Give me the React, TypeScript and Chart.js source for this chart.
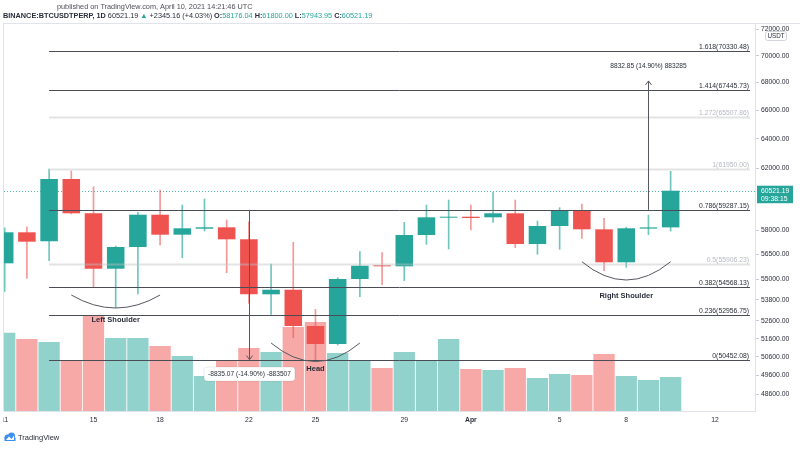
import React, { useEffect, useRef } from 'react';
import { Chart, registerables } from 'chart.js';

Chart.register(...registerables);

// ---------- data ----------
const DATES = [
  '2021-03-11', '2021-03-12', '2021-03-13', '2021-03-14', '2021-03-15', '2021-03-16', '2021-03-17',
  '2021-03-18', '2021-03-19', '2021-03-20', '2021-03-21', '2021-03-22', '2021-03-23', '2021-03-24',
  '2021-03-25', '2021-03-26', '2021-03-27', '2021-03-28', '2021-03-29', '2021-03-30', '2021-03-31',
  '2021-04-01', '2021-04-02', '2021-04-03', '2021-04-04', '2021-04-05', '2021-04-06', '2021-04-07',
  '2021-04-08', '2021-04-09', '2021-04-10',
];
const OPEN = [55967, 57869, 57310, 61289, 59066, 55643, 56960, 58976, 57720, 58093, 58181, 57434, 54129, 54398, 52311, 51307, 55029, 55823, 55787, 57700, 58787, 58850, 58811, 59066, 57144, 58263, 59276, 58055, 56028, 58100, 58176.04];
const HIGH = [58150, 58219, 61950, 61820, 60783, 57021, 59129, 60567, 59596, 59983, 58640, 58533, 55925, 57248, 53261, 55105, 56672, 56611, 58496, 59596, 59918, 59596, 60417, 59918, 58577, 59424, 59660, 58748, 58181, 58957, 61800];
const LOW = [54300, 55070, 56124, 59030, 54539, 53354, 54147, 57082, 56306, 57950, 55403, 53606, 52975, 51657, 50452.08, 51250, 53990, 54692, 54928, 57125, 56837, 58012, 58496, 56917, 56513, 56818, 57496, 55523, 55727, 57720, 57943.95];
const CLOSE = [57869, 57286, 61289, 59066, 55643, 56960, 58976, 57720, 58119, 58181, 57434, 54129, 54398, 52311, 51307, 55029, 55823, 55787, 57700, 58811, 58850, 58768, 59066, 57144, 58263, 59276, 58055, 56028, 58119, 58176.04, 60521.19];
// volume, thousands
const VOLUME = [470, 432, 414, 300, 576, 438, 438, 390, 330, 210, 306, 378, 354, 504, 534, 348, 300, 258, 354, 300, 432, 252, 246, 258, 198, 222, 216, 342, 210, 186, 204];

const X_TICK_IDX = [0, 4, 7, 11, 14, 18, 21, 25, 28, 32];
const X_TICK_LABELS = ['11', '15', '18', '22', '25', '29', 'Apr', '5', '8', '12'];
const Y_TICKS = [72000, 70000, 68000, 66000, 64000, 62000, 58000, 56500, 55000, 53800, 52600, 51600, 50600, 49600, 48600];

const FIB_RATIOS = ['1.618', '1.414', '1.272', '1', '0.786', '0.5', '0.382', '0.236', '0'];
const FIB_PRICES = [70330.48, 67445.73, 65507.86, 61950.0, 59287.15, 55906.23, 54568.13, 52956.75, 50452.08];
const FIB_MUTED = [false, false, true, true, false, true, false, false, false];
const FIB_START_IDX = 2;

const LAST_PRICE = 60521.19;
const LAST_TIME = '09:38:15';

const MEASURE_IDX = [11, 29];
const MEASURE_FROM = [59287.15, 59287.15];
const MEASURE_TO = [50452.08, 68120.0];
const MEASURE_TEXT = ['-8835.07 (-14.90%) -883507', '8832.85 (14.90%) 883285'];

const ARC_LABELS = ['Left Shoulder', 'Head', 'Right Shoulder'];
const ARC_START_IDX = [3, 12, 26];
const ARC_END_IDX = [7, 16, 30];
const ARC_EDGE_PRICE = [54088, 51362, 56064];
const ARC_LOW_PRICE = [53336, 50348, 54970];
const ARC_LABEL_OFFSET = [12, 7.5, 16];

const HEADER_1 = 'published on TradingView.com, April 10, 2021 14:21:46 UTC';
const SYMBOL = 'BINANCE:BTCUSDTPERP, 1D';
const CHANGE = '+2345.16 (+4.03%)';

// ---------- style ----------
const GREEN = '#26a69a';
const RED = '#ef5350';
const GREEN_WICK = 'rgba(38,166,154,0.65)';
const RED_WICK = 'rgba(239,83,80,0.6)';
const GREEN_VOL = 'rgba(38,166,154,0.5)';
const RED_VOL = 'rgba(239,83,80,0.5)';
const TEXT = '#2a2e39';
const FONT = '"Liberation Sans", Arial, sans-serif';

const Y_MIN = 47734;
const Y_MAX = 72508;
const X_MIN = -0.0315;
const X_MAX = 33.8;
const VOL_MAX = 2328;

const overlay = {
  id: 'overlay',
  beforeDatasetsDraw(chart: any) {
    const { ctx, chartArea: a, scales } = chart;
    const y = Math.round(scales.y.getPixelForValue(LAST_PRICE)) + 0.5;
    ctx.save();
    ctx.strokeStyle = 'rgba(38,166,154,0.8)';
    ctx.lineWidth = 1;
    ctx.setLineDash([1, 2]);
    ctx.beginPath();
    ctx.moveTo(a.left, y);
    ctx.lineTo(a.right, y);
    ctx.stroke();
    ctx.restore();
  },
  afterDatasetsDraw(chart: any) {
    const { ctx, chartArea: a, scales } = chart;
    const xs = scales.x;
    const ys = scales.y;
    ctx.save();
    // fib levels
    const x0 = xs.getPixelForValue(FIB_START_IDX);
    const x1 = a.right - 5;
    FIB_PRICES.forEach((p, i) => {
      const yy = Math.round(ys.getPixelForValue(p)) + 0.5;
      ctx.beginPath();
      ctx.strokeStyle = FIB_MUTED[i] ? 'rgba(190,192,198,0.45)' : '#4a4d55';
      ctx.lineWidth = FIB_MUTED[i] ? 2 : 1;
      ctx.moveTo(x0, yy);
      ctx.lineTo(x1, yy);
      ctx.stroke();
      ctx.font = `6.8px ${FONT}`;
      ctx.fillStyle = FIB_MUTED[i] ? '#b6b9c2' : TEXT;
      ctx.textAlign = 'right';
      ctx.textBaseline = 'bottom';
      ctx.fillText(`${FIB_RATIOS[i]}(${FIB_PRICES[i].toFixed(2)})`, x1 - 1, yy - 1);
    });
    // measure arrows
    MEASURE_IDX.forEach((idx, i) => {
      const mx = Math.round(xs.getPixelForValue(idx)) + 0.5;
      const yA = ys.getPixelForValue(MEASURE_FROM[i]);
      const yB = ys.getPixelForValue(MEASURE_TO[i]);
      ctx.strokeStyle = '#55585f';
      ctx.lineWidth = 1;
      ctx.beginPath();
      ctx.moveTo(mx, yA);
      ctx.lineTo(mx, yB);
      const dir = yB > yA ? 1 : -1;
      ctx.moveTo(mx - 3, yB - dir * 4);
      ctx.lineTo(mx, yB);
      ctx.lineTo(mx + 3, yB - dir * 4);
      ctx.stroke();
      ctx.font = `6.6px ${FONT}`;
      const tw = ctx.measureText(MEASURE_TEXT[i]).width;
      const cy = yB + dir * 14.5;
      ctx.fillStyle = '#ffffff';
      ctx.strokeStyle = 'rgba(0,0,0,0.08)';
      ctx.beginPath();
      (ctx as any).roundRect(mx - tw / 2 - 4, cy - 7, tw + 8, 14, 3);
      ctx.fill();
      if (dir > 0) ctx.stroke();
      ctx.fillStyle = TEXT;
      ctx.textAlign = 'center';
      ctx.textBaseline = 'middle';
      ctx.fillText(MEASURE_TEXT[i], mx, cy);
    });
    // head & shoulders arcs
    ARC_LABELS.forEach((lab, i) => {
      const ax0 = xs.getPixelForValue(ARC_START_IDX[i]);
      const ax1 = xs.getPixelForValue(ARC_END_IDX[i]);
      const ay = ys.getPixelForValue(ARC_EDGE_PRICE[i]);
      const ym = ys.getPixelForValue(ARC_LOW_PRICE[i]);
      const xm = (ax0 + ax1) / 2;
      ctx.strokeStyle = '#55585f';
      ctx.lineWidth = 1;
      ctx.beginPath();
      ctx.moveTo(ax0, ay);
      ctx.quadraticCurveTo(xm, 2 * ym - ay, ax1, ay);
      ctx.stroke();
      ctx.font = `bold 7.5px ${FONT}`;
      ctx.fillStyle = TEXT;
      ctx.textAlign = 'center';
      ctx.textBaseline = 'middle';
      ctx.fillText(lab, xm, ym + ARC_LABEL_OFFSET[i]);
    });
    ctx.restore();
  },
  afterDraw(chart: any) {
    const { ctx, chartArea: a, scales } = chart;
    ctx.save();
    // frame
    ctx.strokeStyle = '#e0e3eb';
    ctx.lineWidth = 1;
    ctx.beginPath();
    ctx.moveTo(3, 23.5);
    ctx.lineTo(800, 23.5);
    ctx.moveTo(3.5, 23.5);
    ctx.lineTo(3.5, a.bottom);
    ctx.stroke();
    // x axis labels (clipped to the pane)
    ctx.save();
    ctx.beginPath();
    ctx.rect(3.5, a.bottom + 1, a.right - 3.5, 30);
    ctx.clip();
    ctx.fillStyle = TEXT;
    ctx.textAlign = 'center';
    ctx.textBaseline = 'middle';
    X_TICK_IDX.forEach((v, i) => {
      ctx.font = `${X_TICK_LABELS[i] === 'Apr' ? 'bold ' : ''}6.8px ${FONT}`;
      ctx.fillText(X_TICK_LABELS[i], scales.x.getPixelForValue(v), a.bottom + 9.5);
    });
    ctx.restore();
    // header
    ctx.textBaseline = 'middle';
    ctx.textAlign = 'left';
    ctx.fillStyle = '#4c4f57';
    ctx.font = `7.3px ${FONT}`;
    ctx.fillText(HEADER_1, 57, 7);
    let x = 3;
    const seg = (t: string, bold: boolean, color: string) => {
      ctx.font = `${bold ? 'bold ' : ''}7.3px ${FONT}`;
      ctx.fillStyle = color;
      ctx.fillText(t, x, 16);
      x += ctx.measureText(t).width;
    };
    seg(SYMBOL, true, TEXT);
    seg(' ' + LAST_PRICE.toFixed(2) + ' ', false, TEXT);
    seg('▲', false, GREEN);
    seg(' ' + CHANGE + ' ', false, TEXT);
    const last = OPEN.length - 1;
    seg('O:', true, TEXT);
    seg(OPEN[last].toFixed(2), false, GREEN);
    seg(' H:', true, TEXT);
    seg(HIGH[last].toFixed(2), false, GREEN);
    seg(' L:', true, TEXT);
    seg(LOW[last].toFixed(2), false, GREEN);
    seg(' C:', true, TEXT);
    seg(CLOSE[last].toFixed(2), false, GREEN);
    // USDT tag
    ctx.strokeStyle = '#d1d4dc';
    ctx.fillStyle = '#ffffff';
    ctx.beginPath();
    (ctx as any).roundRect(765.5, 31.5, 21, 9, 2);
    ctx.fill();
    ctx.stroke();
    ctx.fillStyle = TEXT;
    ctx.font = `6.3px ${FONT}`;
    ctx.textAlign = 'center';
    ctx.fillText('USDT', 776, 36.3);
    // last price box
    const py = scales.y.getPixelForValue(LAST_PRICE);
    ctx.fillStyle = GREEN;
    ctx.fillRect(757, py - 5, 36, 17.5);
    ctx.fillStyle = '#ffffff';
    ctx.font = `6.8px ${FONT}`;
    ctx.textAlign = 'left';
    ctx.fillText(LAST_PRICE.toFixed(2), 761, py);
    ctx.fillText(LAST_TIME, 761, py + 8.5);
    // logo
    ctx.fillStyle = '#3d8ff0';
    ctx.beginPath();
    ctx.arc(7.5, 437.5, 3, 0, Math.PI * 2);
    ctx.arc(11.5, 436, 3.5, 0, Math.PI * 2);
    ctx.fill();
    ctx.fillRect(4.5, 437.5, 11, 3.5);
    ctx.fillStyle = '#ffffff';
    ctx.beginPath();
    ctx.moveTo(6, 440);
    ctx.lineTo(9, 436.5);
    ctx.lineTo(11.5, 439);
    ctx.lineTo(14, 435.5);
    ctx.lineTo(14, 440);
    ctx.closePath();
    ctx.fill();
    ctx.fillStyle = '#2a2e39';
    ctx.font = `7.5px ${FONT}`;
    ctx.textAlign = 'left';
    ctx.fillText('TradingView', 18, 437.5);
    ctx.restore();
  },
};

export default function App() {
  const ref = useRef<HTMLCanvasElement>(null);
  useEffect(() => {
    document.body.style.margin = '0';
    const canvas = ref.current;
    if (!canvas) return;
    const idx = DATES.map((_, i) => i);
    const up = idx.map((i) => CLOSE[i] >= OPEN[i]);
    const bodies = idx.map((i) => ({ x: i, y: [Math.min(OPEN[i], CLOSE[i]), Math.max(OPEN[i], CLOSE[i])] }));
    const wicks = idx.map((i) => ({ x: i, y: [LOW[i], HIGH[i]] }));
    const vols = idx.map((i) => ({ x: i, y: VOLUME[i] }));
    const chart = new Chart(canvas, {
      type: 'bar',
      data: {
        datasets: [
          {
            label: 'body',
            data: bodies as any,
            yAxisID: 'y',
            backgroundColor: up.map((u) => (u ? GREEN : RED)),
            barPercentage: 0.79,
            categoryPercentage: 1,
            grouped: false,
            minBarLength: 1,
            borderWidth: 0,
          } as any,
          {
            label: 'wick',
            data: wicks as any,
            yAxisID: 'y',
            backgroundColor: up.map((u) => (u ? GREEN_WICK : RED_WICK)),
            barThickness: 1,
            grouped: false,
            borderWidth: 0,
          } as any,
          {
            label: 'volume',
            data: vols as any,
            yAxisID: 'yv',
            backgroundColor: up.map((u) => (u ? GREEN_VOL : RED_VOL)),
            barPercentage: 0.96,
            categoryPercentage: 1,
            grouped: false,
            borderWidth: 0,
          } as any,
        ],
      },
      options: {
        responsive: false,
        animation: false,
        layout: { padding: { left: 4, top: 23, right: 0, bottom: 0 } },
        plugins: { legend: { display: false }, tooltip: { enabled: false } },
        scales: {
          x: {
            type: 'linear',
            min: X_MIN,
            max: X_MAX,
            offset: false,
            grid: { display: false, drawTicks: false, offset: false },
            border: { display: true, color: '#e0e3eb' },
            afterBuildTicks: (s: any) => {
              s.ticks = X_TICK_IDX.map((v) => ({ value: v }));
            },
            afterFit: (s: any) => {
              s.height = 39;
            },
            ticks: { display: false },
          } as any,
          y: {
            type: 'logarithmic',
            position: 'right',
            min: Y_MIN,
            max: Y_MAX,
            grid: { display: true, drawOnChartArea: false, drawTicks: true, tickLength: 4, color: '#c9ccd3' },
            border: { display: true, color: '#e0e3eb' },
            afterBuildTicks: (s: any) => {
              s.ticks = Y_TICKS.map((v) => ({ value: v }));
            },
            afterFit: (s: any) => {
              s.width = 45;
            },
            ticks: {
              autoSkip: false,
              padding: 2,
              color: TEXT,
              font: { family: FONT, size: 6.8 },
              callback: (v: any) => Number(v).toFixed(2),
            },
          } as any,
          yv: {
            type: 'linear',
            display: false,
            min: 0,
            max: VOL_MAX,
          },
        },
      },
      plugins: [overlay as any],
    });
    return () => chart.destroy();
  }, []);
  return (
    <div style={{ width: 800, height: 450 }}>
      <canvas ref={ref} width={800} height={450} style={{ display: 'block' }} />
    </div>
  );
}
